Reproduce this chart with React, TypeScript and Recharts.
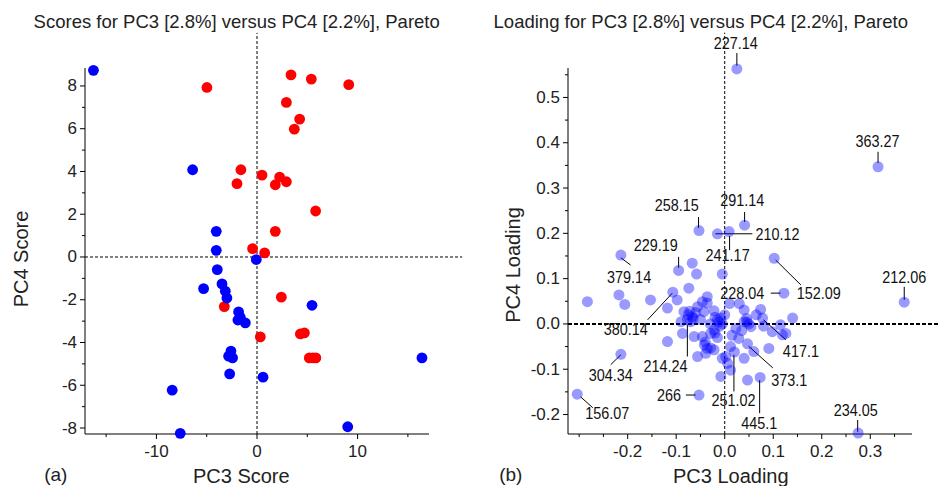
import React from "react";
import { ScatterChart, Scatter, XAxis, YAxis, ReferenceLine, ReferenceDot } from "recharts";

const FONT = '"Liberation Sans", Arial, sans-serif';

// (a) scores, [PC3, PC4]
const redScores: [number, number][] = [
  [-4.98, 7.93], [3.38, 8.52], [5.4, 8.32], [9.12, 8.06], [2.92, 7.23],
  [4.24, 6.45], [3.71, 5.98], [-1.6, 4.08], [-1.99, 3.43], [0.5, 3.83],
  [2.25, 3.74], [1.82, 3.38], [2.92, 3.52], [5.83, 2.15], [1.82, 1.2],
  [-0.44, 0.39], [0.76, 0.19], [-3.25, -2.32], [2.42, -1.88], [0.33, -3.74],
  [4.31, -3.6], [4.71, -3.55], [5.2, -4.72], [5.55, -4.72], [5.85, -4.72],
];
const blueScores: [number, number][] = [
  [-16.26, 8.73], [-6.4, 4.08], [-4.05, 1.2], [-4.05, 0.31], [-0.07, -0.12],
  [-3.95, -0.59], [-5.31, -1.48], [-3.48, -1.26], [-3.15, -1.6], [-2.99, -1.92],
  [5.47, -2.26], [-1.83, -2.57], [-1.66, -2.82], [-1.16, -3.08], [-1.9, -2.95],
  [-2.59, -4.4], [-2.82, -4.64], [-2.43, -4.72], [-2.72, -5.47], [0.6, -5.62],
  [-8.43, -6.23], [-7.63, -8.25], [9.02, -7.94], [16.4, -4.72],
];

// (b) loadings, [PC3, PC4]
const loadings: [number, number][] = [
  [-0.067, 0.134], [-0.058, 0.11], [-0.283, 0.049], [-0.218, 0.064], [-0.206, 0.043],
  [-0.153, 0.053], [-0.074, 0.079], [-0.098, 0.053], [-0.118, 0.035], [-0.084, 0.027],
  [-0.056, 0.038], [-0.036, 0.06], [-0.046, 0.049], [-0.067, 0.016], [-0.022, 0.029],
  [-0.015, 0.009], [-0.087, -0.021], [-0.063, -0.028], [-0.046, -0.028], [-0.029, -0.021],
  [-0.118, -0.039], [-0.036, -0.054], [-0.056, -0.072], [-0.005, 0.11], [0.04, 0.031],
  [0.074, 0.032], [0.04, 0.005], [-0.008, 0.013], [-0.036, 0.046], [-0.043, 0.027],
  [-0.022, -0.013], [0.023, -0.01], [0.054, -0.006], [0.115, -0.002], [0.14, 0.013],
  [0.119, -0.024], [0.098, -0.017], [0.029, -0.032], [0.091, -0.054], [0.06, -0.061],
  [0.04, -0.076], [0.002, -0.072], [-0.029, -0.053], [0.012, -0.05], [-0.005, -0.076],
  [0.006, -0.087], [0.012, -0.102], [-0.008, -0.116], [-0.022, -0.057], [-0.039, -0.065],
  [0.047, -0.124], [0.126, -0.021], [-0.075, 0.02], [-0.07, 0.005], [-0.06, 0.025],
  [-0.05, 0.01], [-0.03, 0.0], [-0.02, 0.015], [-0.01, -0.005], [0.0, 0.02],
  [-0.005, 0.0], [0.045, 0.012], [0.05, 0.0], [0.035, -0.015], [-0.015, -0.03],
  [-0.04, -0.04], [0.015, -0.025], [-0.09, 0.005], [0.065, 0.02], [0.08, -0.005],
  [0.01, 0.045], [0.03, 0.045], [-0.065, 0.012], [-0.012, 0.004], [0.046, 0.004],
  [-0.042, -0.046], [-0.02, -0.02], [-0.072, 0.028],
];

const loadingNames = [
  "227.14", "363.27", "258.15", "291.14", "210.12", "241.17", "229.19", "379.14",
  "152.09", "212.06", "228.04", "380.14", "417.1", "214.24", "304.34", "373.1",
  "251.02", "266", "445.1", "156.07", "234.05",
];
const namedLoadings: [number, number][] = [
  [0.025, 0.563], [0.316, 0.347], [-0.053, 0.206], [0.041, 0.218], [-0.015, 0.199],
  [0.009, 0.204], [-0.095, 0.118], [-0.214, 0.152], [0.102, 0.145], [0.37, 0.048],
  [0.122, 0.068], [-0.107, 0.07], [0.078, 0.013], [-0.077, 0.01], [-0.214, -0.067],
  [0.047, -0.044], [0.02, -0.062], [-0.053, -0.157], [0.073, -0.118], [-0.304, -0.155],
  [0.275, -0.241],
];
const nameAt: [number, number][] = [
  [0.023, 0.62], [0.315, 0.404], [-0.099, 0.263], [0.036, 0.274], [0.109, 0.199],
  [0.006, 0.152], [-0.142, 0.174], [-0.197, 0.104], [0.194, 0.068], [0.37, 0.103],
  [0.036, 0.068], [-0.204, -0.012], [0.157, -0.061], [-0.122, -0.094], [-0.235, -0.113],
  [0.133, -0.124], [0.018, -0.168], [-0.115, -0.157], [0.071, -0.219], [-0.242, -0.197],
  [0.27, -0.19],
];
const leaders: [number, number, number, number][] = [
  [0.025, 0.598, 0.025, 0.57], [0.316, 0.38, 0.316, 0.355], [-0.054, 0.236, -0.054, 0.212],
  [0.041, 0.247, 0.041, 0.225], [-0.019, 0.199, 0.057, 0.199], [0.01, 0.194, 0.01, 0.163],
  [-0.095, 0.148, -0.095, 0.124], [-0.214, 0.146, -0.194, 0.13], [0.105, 0.141, 0.157, 0.086],
  [0.37, 0.082, 0.37, 0.053], [0.095, 0.068, 0.115, 0.068], [-0.159, 0.009, -0.108, 0.068],
  [0.08, 0.009, 0.126, -0.035], [-0.077, -0.002, -0.077, -0.072], [-0.235, -0.09, -0.214, -0.068],
  [0.049, -0.049, 0.099, -0.097], [0.019, -0.068, 0.019, -0.149], [-0.08, -0.157, -0.06, -0.157],
  [0.072, -0.124, 0.072, -0.197], [-0.297, -0.161, -0.272, -0.185], [0.274, -0.212, 0.274, -0.238],
];

const scoreXTicks = [-15, -10, -5, 0, 5, 10, 15];
const scoreXMajor = [-10, 0, 10];
const scoreYTicks = [-8, -7, -6, -5, -4, -3, -2, -1, 0, 1, 2, 3, 4, 5, 6, 7, 8];
const scoreYMajor = [-8, -6, -4, -2, 0, 2, 4, 6, 8];
const loadXTicks = [-0.3, -0.25, -0.2, -0.15, -0.1, -0.05, 0, 0.05, 0.1, 0.15, 0.2, 0.25, 0.3, 0.35];
const loadXMajor = [-0.2, -0.1, 0, 0.1, 0.2, 0.3];
const loadYTicks = [-0.2, -0.15, -0.1, -0.05, 0, 0.05, 0.1, 0.15, 0.2, 0.25, 0.3, 0.35, 0.4, 0.45, 0.5, 0.55];
const loadYMajor = [-0.2, -0.1, 0, 0.1, 0.2, 0.3, 0.4, 0.5];

const toPts = (a: [number, number][]) => a.map(([x, y]) => ({ x, y }));
const isMajor = (majors: number[], v: number) => majors.some((m) => Math.abs(m - v) < 1e-9);

const makeTick = (side: "left" | "bottom", majors: number[], fmt: (v: number) => string) =>
  (props: any) => {
    const { x, y, payload } = props;
    const v = payload.value;
    const major = isMajor(majors, v);
    const len = major ? 5 : 3;
    if (side === "left") {
      return (
        <g>
          <line x1={x} x2={x - len} y1={y} y2={y} stroke="#000" />
          {major && (
            <text x={x - 8} y={y} textAnchor="end" dominantBaseline="central"
              fontSize={17} fontFamily={FONT} fill="#222">{fmt(v)}</text>
          )}
        </g>
      );
    }
    return (
      <g>
        <line x1={x} x2={x} y1={y} y2={y + len} stroke="#000" />
        {major && (
          <text x={x} y={y + 17} textAnchor="middle" dominantBaseline="central"
            fontSize={17} fontFamily={FONT} fill="#222">{fmt(v)}</text>
        )}
      </g>
    );
  };

const dot = (r: number, fill: string, opacity = 1) => (p: any) =>
  <circle cx={p.cx} cy={p.cy} r={r} fill={fill} fillOpacity={opacity} />;

const scoreFmt = (v: number) => String(v);
const loadFmt = (v: number) => v.toFixed(1);

function ScoresChart() {
  return (
    <ScatterChart width={470} height={486} margin={{ top: 68, right: 41, bottom: 0, left: 0 }}>
      <XAxis type="number" dataKey="x" domain={[-17.1, 17.1]} ticks={scoreXTicks} interval={0}
        tickSize={0} tickMargin={0} height={52} axisLine={{ stroke: "#000" }}
        tick={makeTick("bottom", scoreXMajor, scoreFmt)} />
      <YAxis type="number" dataKey="y" domain={[-8.28, 8.84]} ticks={scoreYTicks} interval={0}
        tickSize={0} tickMargin={0} width={85} axisLine={{ stroke: "#000" }}
        tick={makeTick("left", scoreYMajor, scoreFmt)} />
      <ReferenceLine segment={[{ x: 0, y: -8.28 }, { x: 0, y: 10.48 }]} ifOverflow="visible"
        stroke="#000" strokeDasharray="3 2" />
      <ReferenceLine segment={[{ x: -17.1, y: 0 }, { x: 20.4, y: 0 }]} ifOverflow="visible"
        stroke="#000" strokeDasharray="3 2" />
      <Scatter data={toPts(redScores)} isAnimationActive={false} shape={dot(5.4, "#ff0000")} />
      <Scatter data={toPts(blueScores)} isAnimationActive={false} shape={dot(5.4, "#0000ff")} />
    </ScatterChart>
  );
}

function LoadingsChart() {
  const all = toPts([...loadings, ...namedLoadings]);
  return (
    <ScatterChart width={469} height={486} margin={{ top: 68, right: 27, bottom: 0, left: 0 }}>
      <XAxis type="number" dataKey="x" domain={[-0.323, 0.386]} ticks={loadXTicks} interval={0}
        tickSize={0} tickMargin={0} height={52} axisLine={{ stroke: "#000" }}
        tick={makeTick("bottom", loadXMajor, loadFmt)} />
      <YAxis type="number" dataKey="y" domain={[-0.243, 0.565]} ticks={loadYTicks} interval={0}
        tickSize={0} tickMargin={0} width={98} axisLine={{ stroke: "#000" }}
        tick={makeTick("left", loadYMajor, loadFmt)} />
      <Scatter data={all} isAnimationActive={false} shape={dot(5.5, "#0000ff", 0.4)} />
      <ReferenceLine segment={[{ x: 0, y: -0.243 }, { x: 0, y: 0.643 }]} ifOverflow="visible"
        stroke="#000" strokeDasharray="3 2" />
      <ReferenceLine segment={[{ x: -0.323, y: 0 }, { x: 0.45, y: 0 }]} ifOverflow="visible"
        stroke="#000" strokeWidth={2} strokeDasharray="4 2" />
      {leaders.map(([x1, y1, x2, y2], i) => (
        <ReferenceLine key={"l" + i} segment={[{ x: x1, y: y1 }, { x: x2, y: y2 }]}
          ifOverflow="visible" stroke="#000" />
      ))}
      {nameAt.map(([x, y], i) => (
        <ReferenceDot key={"n" + i} x={x} y={y} r={0} ifOverflow="visible"
          shape={(p: any) => (
            <text x={p.cx} y={p.cy} textAnchor="middle" dominantBaseline="central"
              fontSize={16} fontFamily={FONT} fill="#111" transform={`translate(${p.cx} 0) scale(0.9 1) translate(${-p.cx} 0)`}>
              {loadingNames[i]}
            </text>
          )} />
      ))}
    </ScatterChart>
  );
}

const txt = { fontFamily: FONT, fill: "#222" } as const;

export default function App() {
  return (
    <div style={{ position: "absolute", left: 0, top: 0, width: 939, height: 486, background: "#fff" }}>
      <div style={{ position: "absolute", left: 0, top: 0 }}><ScoresChart /></div>
      <div style={{ position: "absolute", left: 470, top: 0 }}><LoadingsChart /></div>
      <svg width={939} height={486} style={{ position: "absolute", left: 0, top: 0, pointerEvents: "none" }}>
        <text x={236.7} y={21} textAnchor="middle" dominantBaseline="central" fontSize={18.5} {...txt}>
          Scores for PC3 [2.8%] versus PC4 [2.2%], Pareto
        </text>
        <text x={700.8} y={21} textAnchor="middle" dominantBaseline="central" fontSize={18.5} {...txt}>
          Loading for PC3 [2.8%] versus PC4 [2.2%], Pareto
        </text>
        <text x={20.5} y={259} textAnchor="middle" dominantBaseline="central" fontSize={20}
          transform="rotate(-90 20.5 259)" {...txt}>PC4 Score</text>
        <text x={241.3} y={476} textAnchor="middle" dominantBaseline="central" fontSize={20} {...txt}>PC3 Score</text>
        <text x={55.8} y={474} textAnchor="middle" dominantBaseline="central" fontSize={19} {...txt}>(a)</text>
        <text x={512.5} y={265} textAnchor="middle" dominantBaseline="central" fontSize={20}
          transform="rotate(-90 512.5 265)" {...txt}>PC4 Loading</text>
        <text x={730.8} y={476} textAnchor="middle" dominantBaseline="central" fontSize={20} {...txt}>PC3 Loading</text>
        <text x={510.8} y={474} textAnchor="middle" dominantBaseline="central" fontSize={19} {...txt}>(b)</text>
      </svg>
    </div>
  );
}
